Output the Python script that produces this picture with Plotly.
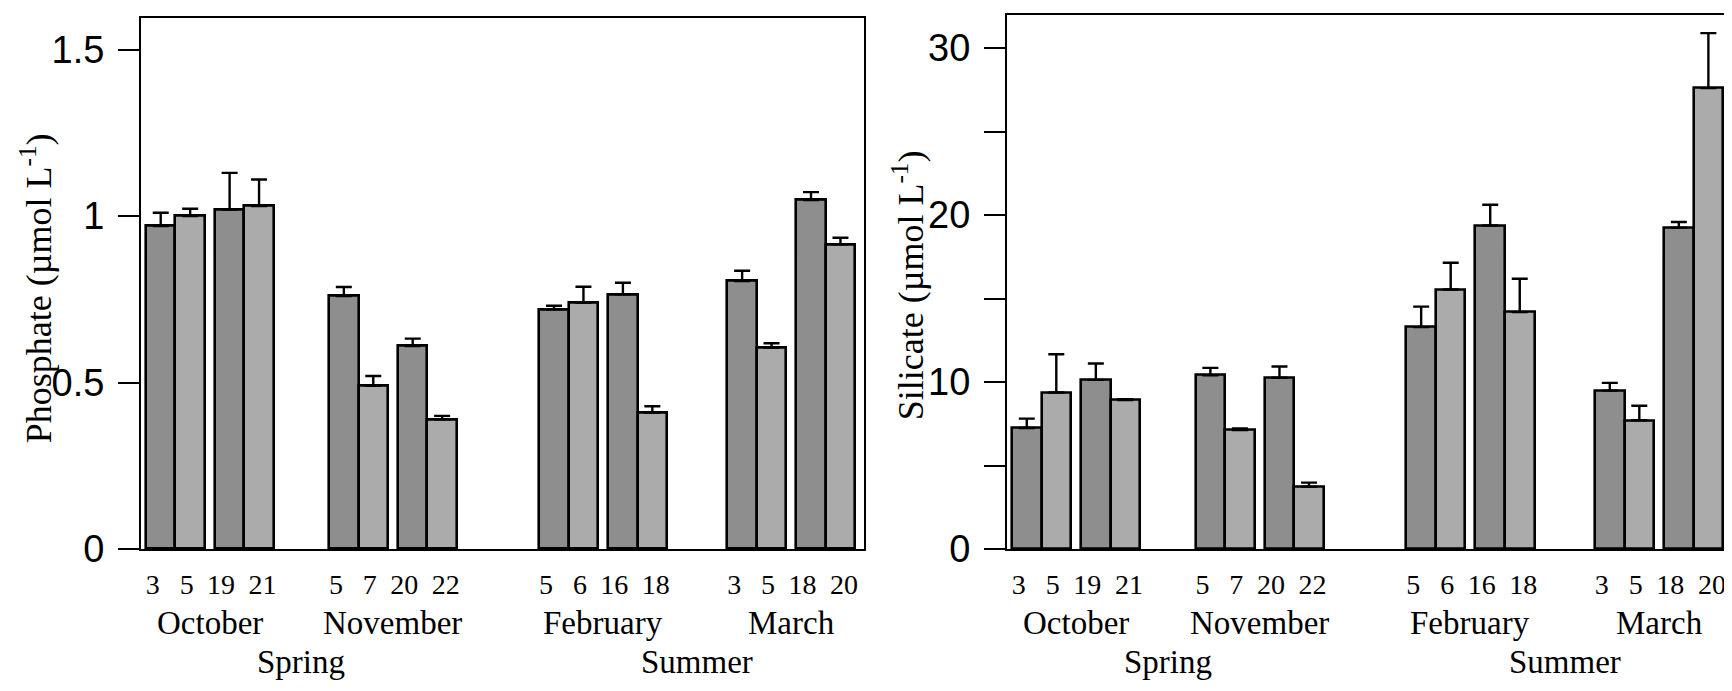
import plotly.graph_objects as go

# ---- data ----
months = ["October", "November", "February", "March"]
seasons = ["Spring", "Summer"]
days = [[3, 5, 19, 21], [5, 7, 20, 22], [5, 6, 16, 18], [3, 5, 18, 20]]
phosphate = [0.97, 1.00, 1.02, 1.03,
             0.76, 0.49, 0.61, 0.39,
             0.72, 0.74, 0.765, 0.41,
             0.805, 0.605, 1.048, 0.915]
phosphate_err = [0.04, 0.022, 0.11, 0.08,
                 0.027, 0.03, 0.022, 0.01,
                 0.011, 0.048, 0.035, 0.019,
                 0.031, 0.013, 0.024, 0.02]
silicate = [7.25, 9.38, 10.13, 8.92,
            10.41, 7.12, 10.26, 3.73,
            13.29, 15.55, 19.38, 14.19,
            9.49, 7.71, 19.25, 27.61]
silicate_err = [0.56, 2.29, 0.98, 0.05,
                0.44, 0.1, 0.67, 0.25,
                1.23, 1.6, 1.24, 2.0,
                0.46, 0.87, 0.34, 3.29]

# ---- layout helpers ----
W, H = 1732, 691
DARK, LIGHT = "#8e8e8e", "#ababab"
pair_gap = 0.34
month_gaps = [1.88, 2.8, 2.05]
month_w = 4 + pair_gap
label_offsets = [-1.94, -0.79, 0.38, 1.79]   # day-label spread about month centre

xs, starts = [], []
s = 0.0
for m in range(len(months)):
    starts.append(s)
    xs += [s + 0.5, s + 1.5, s + 1.5 + 1 + pair_gap, s + 2.5 + 1 + pair_gap]
    if m < len(month_gaps):
        s += month_w + month_gaps[m]
month_centers = [st + month_w / 2 for st in starts]
season_centers = [(month_centers[0] + month_centers[1]) / 2,
                  (month_centers[2] + month_centers[3]) / 2]
label_x = [mc + off for mc in month_centers for off in label_offsets]
xrange_ = [-0.17, starts[-1] + month_w + 0.3]
ticktext = [str(d) for grp in days for d in grp]
colors = [DARK, LIGHT] * 8

def ypx(px):
    return 1 - px / H

fig = go.Figure()
for i, (vals, errs) in enumerate([(phosphate, phosphate_err), (silicate, silicate_err)]):
    fig.add_trace(go.Bar(
        x=xs, y=vals, width=1.0,
        marker=dict(color=colors, line=dict(color="black", width=2.6)),
        error_y=dict(type="data", array=errs, arrayminus=[0] * len(errs),
                     symmetric=False, color="black", thickness=2.4, width=8),
        xaxis="x" if i == 0 else "x2", yaxis="y" if i == 0 else "y2",
        showlegend=False, hoverinfo="skip"))

sans = "Liberation Sans Narrow, Arial Narrow, Liberation Sans, Arial, sans-serif"
serif = "Liberation Serif, Times New Roman, serif"

xcommon = dict(range=xrange_, tickmode="array", tickvals=label_x, ticktext=ticktext,
               ticks="", tickangle=0, showline=True, mirror=True, linecolor="black",
               linewidth=2, showgrid=False, zeroline=False,
               tickfont=dict(family=serif, size=28, color="black"),
               ticklabelstandoff=9)
ycommon = dict(ticks="outside", ticklen=21, tickwidth=2, tickcolor="black",
               showline=True, mirror=True, linecolor="black", linewidth=2,
               showgrid=False, zeroline=False,
               tickfont=dict(family=sans, size=38, color="black"),
               ticklabelstandoff=6)

fig.update_layout(
    width=W, height=H, margin=dict(l=0, r=0, t=0, b=0),
    paper_bgcolor="white", plot_bgcolor="white", bargap=0,
    xaxis=dict(domain=[133 / W, 856 / W], anchor="y", **xcommon),
    xaxis2=dict(domain=[999 / W, 1724 / W], anchor="y2", **xcommon),
    yaxis=dict(domain=[ypx(558), ypx(10)], anchor="x", range=[0, 1.596],
               tickvals=[0, 0.5, 1, 1.5], ticktext=["0", "0.5", "1", "1.5"], **ycommon),
    yaxis2=dict(domain=[ypx(558), ypx(7)], anchor="x2", range=[0, 32.0],
                tickvals=[0, 5, 10, 15, 20, 25, 30],
                ticktext=["0", "", "10", "", "20", "", "30"], **ycommon),
)

ann = []
for xref in ["x", "x2"]:
    for mc, mn in zip(month_centers, months):
        ann.append(dict(x=mc, y=ypx(634), xref=xref, yref="paper", text=mn,
                        showarrow=False, xanchor="center", yanchor="middle",
                        font=dict(family=serif, size=33, color="black")))
    for sc, sn in zip(season_centers, seasons):
        ann.append(dict(x=sc, y=ypx(675), xref=xref, yref="paper", text=sn,
                        showarrow=False, xanchor="center", yanchor="middle",
                        font=dict(family=serif, size=33, color="black")))
ann.append(dict(x=28 / W, y=ypx(289), xref="paper", yref="paper",
                text="Phosphate (µmol L<sup>-1</sup>)", textangle=-90, showarrow=False,
                xanchor="center", yanchor="middle",
                font=dict(family=serif, size=36, color="black")))
ann.append(dict(x=900 / W, y=ypx(286), xref="paper", yref="paper",
                text="Silicate (µmol L<sup>-1</sup>)", textangle=-90, showarrow=False,
                xanchor="center", yanchor="middle",
                font=dict(family=serif, size=36, color="black")))
fig.update_layout(annotations=ann)

fig.write_html("out.html")
